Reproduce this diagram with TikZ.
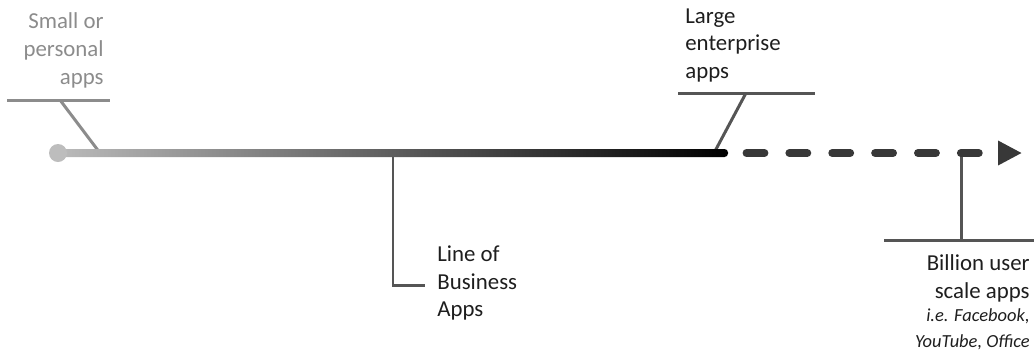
\documentclass[tikz,border=0pt]{standalone}
\usepackage{fontspec}
\setmainfont{Carlito}
\usepackage{tikz}
\usetikzlibrary{arrows.meta,calc}

\definecolor{lightline}{HTML}{BDBDBD}
\definecolor{leadgray}{HTML}{555555}
\definecolor{softgray}{HTML}{8C8C8C}
\definecolor{inkgray}{HTML}{1E1E1E}

\begin{document}
\begin{tikzpicture}[
			x=0.02cm, y=-0.02cm,
			leader/.style={draw=leadgray, line width=1.7pt},
			softleader/.style={draw=softgray, line width=1.7pt},
			lbl/.style={inner sep=0pt, text=inkgray, font=\fontsize{13}{15.9}\selectfont},
			note/.style={inner sep=0pt, text=inkgray, font=\fontsize{10.5}{14.8}\selectfont\itshape}
			]
			\useasboundingbox (0,0) rectangle (1034,353);
			
			% labels
			\node[lbl, text=softgray, align=right, anchor=north east] (small) at (104,12) {Small or\\personal\\apps};
			\node[lbl, align=left, anchor=north west] (large) at (685,8) {Large\\enterprise\\apps};
			\node[lbl, align=left, anchor=north west] (lob) at (437,245) {Line of\\Business\\Apps};
			\node[lbl, align=right, anchor=north east] (billion) at (1030,254) {Billion user\\scale apps};
			\node[note, align=right, anchor=north east] (examples) at ($(billion.south east)+(0,6)$) {i.e. Facebook,\\YouTube, Office};
			
			% points on the time line
			\coordinate (origin) at (58,153);
			\coordinate (smallhit) at (100,153);
			\coordinate (lobhit) at (393,153);
			\coordinate (largehit) at (714,153);
			\coordinate (solidend) at (728,153);
			\coordinate (dashstart) at (746.5,153);
			\coordinate (billionhit) at (961,153);
			\coordinate (future) at (1022,153);
			
			% leader bars
			\coordinate (smallbarL) at (7,100);
			\coordinate (smallbarR) at (110,100);
			\coordinate (smallknee) at (60,100);
			\coordinate (largebarL) at (678,93);
			\coordinate (largebarR) at (815,93);
			\coordinate (largeknee) at (746,93);
			\coordinate (lobknee) at (393,285);
			\coordinate (lobfoot) at (425,285);
			\coordinate (billionbarL) at (884,240);
			\coordinate (billionbarR) at (1034,240);
			\coordinate (billionknee) at (961,240);
			
			\draw[softleader] (smallbarL) -- (smallbarR);
			\draw[softleader] (smallknee) -- (smallhit);
			\draw[leader] (largebarL) -- (largebarR);
			\draw[leader] (largeknee) -- (largehit);
			\draw[leader] (lobhit) -- (lobknee) -- (lobfoot);
			\draw[leader] (billionbarL) -- (billionbarR);
			\draw[leader] (billionknee) -- (billionhit);
			
			% time line
			\shade[left color=black!27, middle color=black!42, right color=black, rounded corners=2pt]
				($(origin)+(0,-4)$) rectangle ($(solidend)+(0,4)$);
			\fill[lightline] (origin) circle (9);
			\draw[black!78, line width=4.5pt, line cap=round, dash pattern=on 10.2pt off 14.2pt,
				-{Triangle[length=13.6pt, width=13.1pt, line cap=butt]}] (dashstart) -- (future);
		\end{tikzpicture}
\end{document}
